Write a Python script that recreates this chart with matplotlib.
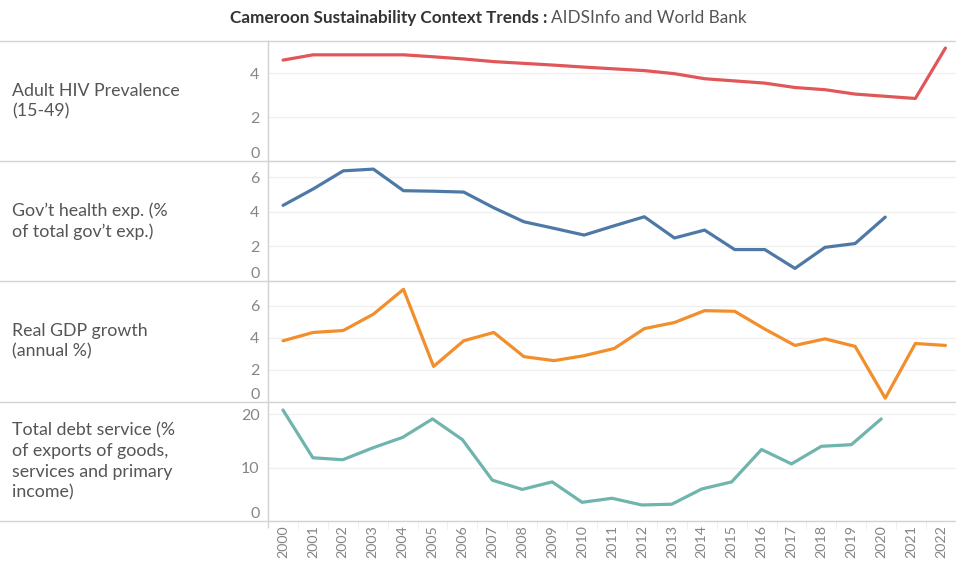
"""Cameroon sustainability context trends: four stacked line panels sharing a year axis."""
import matplotlib
matplotlib.use("Agg")
import matplotlib.pyplot as plt
from matplotlib.lines import Line2D

years = [str(y) for y in range(2000, 2023)]

hiv_prevalence = [4.6, 4.84, 4.84, 4.84, 4.84, 4.75, 4.65, 4.53, 4.45, 4.37,
                  4.28, 4.2, 4.12, 3.98, 3.75, 3.65, 3.55, 3.35, 3.25, 3.05,
                  2.95, 2.85, 5.15]
gov_health_exp = [4.38, 5.33, 6.38, 6.48, 5.23, 5.2, 5.15, 4.24, 3.43, 3.05,
                  2.66, 3.2, 3.72, 2.49, 2.95, 1.82, 1.82, 0.73, 1.95, 2.17,
                  3.7]
gdp_growth = [3.82, 4.34, 4.46, 5.48, 7.03, 2.22, 3.82, 4.34, 2.83, 2.58,
              2.89, 3.34, 4.58, 4.96, 5.7, 5.66, 4.55, 3.53, 3.94, 3.47,
              0.24, 3.65, 3.53]
debt_service = [20.8, 11.85, 11.48, 13.7, 15.67, 19.13, 15.24, 7.65, 5.92, 7.33,
                3.5, 4.26, 3.0, 3.15, 6.0, 7.33, 13.4, 10.7, 14.0, 14.3,
                19.13]

row_titles = ["Adult HIV Prevalence\n(15-49)",
              "Gov\u2019t health exp. (%\nof total gov\u2019t exp.)",
              "Real GDP growth\n(annual %)",
              "Total debt service (%\nof exports of goods,\nservices and primary\nincome)"]
series = [hiv_prevalence, gov_health_exp, gdp_growth, debt_service]
colors = ["#e15759", "#4e79a7", "#f28e2b", "#6fb5ad"]
y_ticks = [[0, 2, 4], [0, 2, 4, 6], [0, 2, 4, 6], [0, 10, 20]]
y_tops = [5.47, 6.95, 7.55, 22.3]

plt.rcParams["font.family"] = ["Lato", "DejaVu Sans"]

W, H = 956, 561
fig = plt.figure(figsize=(W / 100, H / 100), dpi=100)

# panel borders in pixels (top of each row)
row_edges = [41, 161, 281, 402, 521]
x_left = 268
line_grey = "#d3d3d3"

for i, (vals, color) in enumerate(zip(series, colors)):
    top, bot = row_edges[i], row_edges[i + 1]
    ax = fig.add_axes([x_left / W, 1 - bot / H, (W - x_left) / W, (bot - top) / H])
    ax.plot(range(len(vals)), vals, color=color, lw=2.3, solid_capstyle="round",
            solid_joinstyle="round")
    ax.set_xlim(-0.5, 22.35)
    ax.set_ylim(0, y_tops[i])
    ax.set_yticks(y_ticks[i])
    ax.grid(axis="y", color="#f0f0f0", lw=1.0)
    ax.set_axisbelow(True)
    for s in ["top", "right", "bottom"]:
        ax.spines[s].set_visible(False)
    ax.spines["left"].set_color(line_grey)
    ax.tick_params(axis="y", length=0, pad=6, labelsize=11.5, labelcolor="#858585")
    labels = ax.get_yticklabels()
    labels[0].set_verticalalignment("bottom")

    if i < 3:
        ax.set_xticks([])
    else:
        ax.set_xticks(range(len(years)))
        ax.set_xticklabels(years, rotation=90, fontsize=10.3, color="#858585")
        ax.tick_params(axis="x", which="major", length=0, pad=3)
        ax.set_xticks([k - 0.5 for k in range(len(years) + 1)], minor=True)
        ax.tick_params(axis="x", which="minor", length=6, color="#ececec")

    fig.text(12 / W, 1 - (top + bot) / 2 / H, row_titles[i], ha="left", va="center",
             fontsize=12.8, color="#555555", linespacing=1.35)

# row separators across the full width
for y in row_edges:
    fig.add_artist(Line2D([0, 1], [1 - y / H] * 2, transform=fig.transFigure,
                          color=line_grey, lw=1.0))
fig.add_artist(Line2D([(x_left - 0.5) / W] * 2, [1 - 527 / H, 1 - 41 / H],
                      transform=fig.transFigure, color=line_grey, lw=1.0))

fig.text(547 / W, 1 - 18 / H, "Cameroon Sustainability Context Trends :",
         ha="right", va="center", fontsize=12.3, fontweight="bold", color="#333333")
fig.text(551 / W, 1 - 18 / H, "AIDSInfo and World Bank",
         ha="left", va="center", fontsize=12.3, color="#555555")

fig.savefig("out.png", dpi=100)
